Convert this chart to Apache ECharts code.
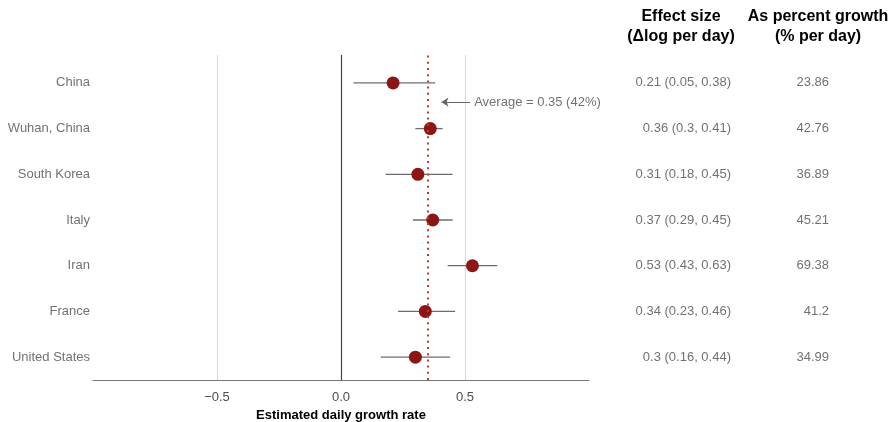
<!DOCTYPE html>
<html>
<head>
<meta charset="utf-8">
<script src="https://cdn.jsdelivr.net/npm/echarts@6/dist/echarts.min.js"></script>
<style>
  html, body { margin: 0; padding: 0; background: #fff; }
  #chart { width: 895px; height: 422px; }
</style>
</head>
<body>
<div id="chart"></div>
<script>
// Estimated daily growth rate of confirmed cases, by country
const countries = ['China', 'Wuhan, China', 'South Korea', 'Italy', 'Iran', 'France', 'United States'];
const estimate = [0.21, 0.36, 0.31, 0.37, 0.53, 0.34, 0.3];
const lower = [0.05, 0.3, 0.18, 0.29, 0.43, 0.23, 0.16];
const upper = [0.38, 0.41, 0.45, 0.45, 0.63, 0.46, 0.44];
const percentGrowth = [23.86, 42.76, 36.89, 45.21, 69.38, 41.2, 34.99];
const average = 0.35;
const averagePercent = 42;
const xTicks = [-0.5, 0, 0.5];

const FONT = '"Liberation Sans", Arial, Helvetica, sans-serif';
const TEXT = '#4d4d4d';

// rows are laid out top to bottom: first country on top
const rowY = i => countries.length - i;
const Y_MIN = 0.5, Y_MAX = 7.61;

const pointData = estimate.map((v, i) => [v, rowY(i)]);
const barData = estimate.map((v, i) => [lower[i], upper[i], rowY(i)]);
const nameData = countries.map((c, i) => ({ value: [-1, rowY(i)], name: c }));
const effectData = estimate.map((v, i) => ({
  value: [1, rowY(i)],
  name: v + ' (' + lower[i] + ', ' + upper[i] + ')'
}));
const pctData = percentGrowth.map((p, i) => ({ value: [1, rowY(i)], name: String(p) }));

const hiddenY = idx => ({ type: 'value', gridIndex: idx, min: Y_MIN, max: Y_MAX, show: false });
const hiddenX = idx => ({ type: 'value', gridIndex: idx, min: 0, max: 1, show: false });

const headerStyle = { fontFamily: FONT, fontSize: 16, fontWeight: 'bold', color: '#000', lineHeight: 20, align: 'center' };

const chart = echarts.init(document.getElementById('chart'), null, { renderer: 'canvas' });
chart.setOption({
  animation: false,
  backgroundColor: '#fff',
  textStyle: { fontFamily: FONT },
  title: [
    { text: 'Effect size\n(Δlog per day)', left: 676, top: 2, textAlign: 'center', textStyle: headerStyle },
    { text: 'As percent growth\n(% per day)', left: 813, top: 2, textAlign: 'center', textStyle: headerStyle }
  ],
  grid: [
    { left: 93, right: 306, top: 55, bottom: 42, outerBoundsMode: 'none', containLabel: false },
    { left: 600, width: 131, top: 55, bottom: 42, outerBoundsMode: 'none', containLabel: false },
    { left: 740, width: 89, top: 55, bottom: 42, outerBoundsMode: 'none', containLabel: false }
  ],
  xAxis: [
    {
      type: 'value', gridIndex: 0, min: -1, max: 1, interval: 0.5,
      name: 'Estimated daily growth rate', nameLocation: 'middle', nameGap: 27,
      nameTextStyle: { fontFamily: FONT, fontSize: 13, fontWeight: 'bold', color: '#000' },
      axisLine: { show: true, onZero: false, lineStyle: { color: '#777', width: 1.2 } },
      axisTick: { show: false },
      axisLabel: {
        margin: 11, fontFamily: FONT, fontSize: 13, color: TEXT,
        formatter: v => xTicks.some(t => Math.abs(t - v) < 1e-9)
          ? (v < 0 ? '\u2212' + Math.abs(v).toFixed(1) : v.toFixed(1)) : ''
      },
      splitLine: {
        show: true,
        lineStyle: { color: ['rgba(0,0,0,0)', '#dcdcdc', '#444', '#dcdcdc', 'rgba(0,0,0,0)'], width: 1.2 }
      }
    },
    hiddenX(1),
    hiddenX(2)
  ],
  yAxis: [hiddenY(0), hiddenY(1), hiddenY(2)],
  series: [
    {
      // confidence intervals
      type: 'custom', xAxisIndex: 0, yAxisIndex: 0, z: 2,
      encode: { x: [0, 1], y: 2 },
      data: barData,
      renderItem: (params, api) => {
        const y = api.value(2);
        const a = api.coord([api.value(0), y]);
        const b = api.coord([api.value(1), y]);
        return { type: 'line', shape: { x1: a[0], y1: a[1], x2: b[0], y2: b[1] },
                 style: { stroke: '#6e6e6e', lineWidth: 1.3 } };
      }
    },
    {
      // point estimates with the average reference line
      type: 'scatter', xAxisIndex: 0, yAxisIndex: 0, z: 4,
      symbol: 'circle', symbolSize: 13,
      itemStyle: { color: '#8c1515', opacity: 1 },
      data: pointData,
      markLine: {
        silent: true, symbol: ['none', 'none'], label: { show: false },
        lineStyle: { color: '#c0392b', type: [2, 4.2], width: 2, cap: 'butt' },
        data: [{ xAxis: average }]
      }
    },
    {
      // arrow pointing at the average line
      type: 'lines', coordinateSystem: 'cartesian2d', xAxisIndex: 0, yAxisIndex: 0, z: 3,
      symbol: ['none', 'arrow'], symbolSize: 7,
      lineStyle: { color: '#666', width: 1.2, opacity: 1 },
      data: [{ coords: [[0.52, 6.58], [0.405, 6.58]] }]
    },
    {
      // average annotation text
      type: 'scatter', xAxisIndex: 0, yAxisIndex: 0, symbolSize: 0, silent: true,
      data: [{ value: [0.537, 6.58], name: 'Average = ' + average + ' (' + averagePercent + '%)' }],
      label: { show: true, position: 'right', distance: 0, formatter: '{b}',
               fontFamily: FONT, fontSize: 13, color: TEXT }
    },
    {
      // country names
      type: 'scatter', xAxisIndex: 0, yAxisIndex: 0, symbolSize: 0, silent: true,
      data: nameData,
      label: { show: true, position: 'left', distance: 3, formatter: '{b}',
               fontFamily: FONT, fontSize: 13, color: TEXT }
    },
    {
      // effect size column
      type: 'scatter', xAxisIndex: 1, yAxisIndex: 1, symbolSize: 0, silent: true,
      data: effectData,
      label: { show: true, position: 'left', distance: 0, formatter: '{b}',
               fontFamily: FONT, fontSize: 13, color: TEXT }
    },
    {
      // percent growth column
      type: 'scatter', xAxisIndex: 2, yAxisIndex: 2, symbolSize: 0, silent: true,
      data: pctData,
      label: { show: true, position: 'left', distance: 0, formatter: '{b}',
               fontFamily: FONT, fontSize: 13, color: TEXT }
    }
  ]
});
</script>
</body>
</html>
